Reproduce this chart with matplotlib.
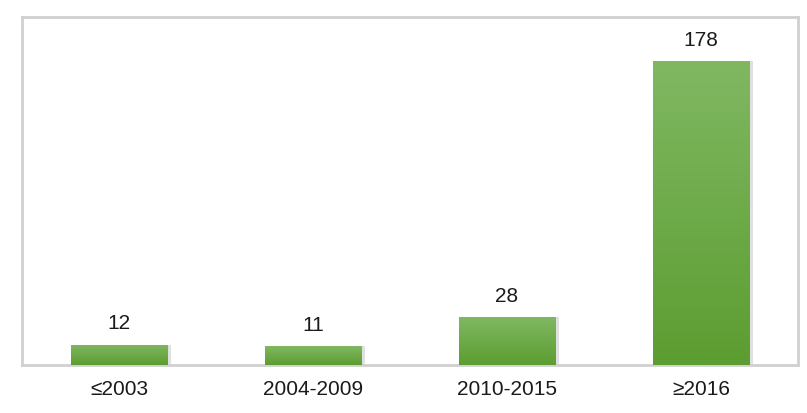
import numpy as np
import matplotlib
matplotlib.use("Agg")
from matplotlib import pyplot as plt
from matplotlib.colors import LinearSegmentedColormap

# data
categories = ["≤2003", "2004-2009", "2010-2015", "≥2016"]
counts = [12, 11, 28, 178]

plt.rcParams['font.family'] = ['Liberation Sans', 'DejaVu Sans']

fig = plt.figure(figsize=(8.07, 4.14), dpi=100)
ax = fig.add_axes([22 / 807, 1 - 366 / 414, 776 / 807, 348 / 414])

x = np.arange(len(categories))
bars = ax.bar(x, counts, width=0.5, color="#6fae45", zorder=2)

# vertical green gradient inside each bar (lighter at top)
cmap = LinearSegmentedColormap.from_list("g", ["#5c9d31", "#80b862"])
grad = np.linspace(0, 1, 256).reshape(-1, 1)
for b in bars:
    x0, y0 = b.get_x(), b.get_y()
    w, h = b.get_width(), b.get_height()
    # soft shadow
    ax.bar(x0 + w / 2 + 0.012, h, width=w + 0.012, color="#000000", alpha=0.12, zorder=1)
    im = ax.imshow(grad, cmap=cmap, origin="lower", aspect="auto",
                   extent=(x0, x0 + w, y0, y0 + h), zorder=3)
    im.set_clip_path(b)

for xi, v in zip(x, counts):
    ax.annotate(str(v), (xi, v), xytext=(0, 9), textcoords="offset points",
                ha="center", va="bottom", fontsize=15, color="#1a1a1a")

ax.set_xlim(-0.5, len(categories) - 0.5)
ax.set_ylim(0, 204)
ax.set_yticks([])
ax.set_xticks(x)
ax.set_xticklabels(categories, fontsize=15, color="#1a1a1a")
ax.tick_params(axis="x", length=0, pad=10)

for s in ax.spines.values():
    s.set_color("#d0d0d0")
    s.set_linewidth(2)

fig.savefig("out.png", dpi=100)
